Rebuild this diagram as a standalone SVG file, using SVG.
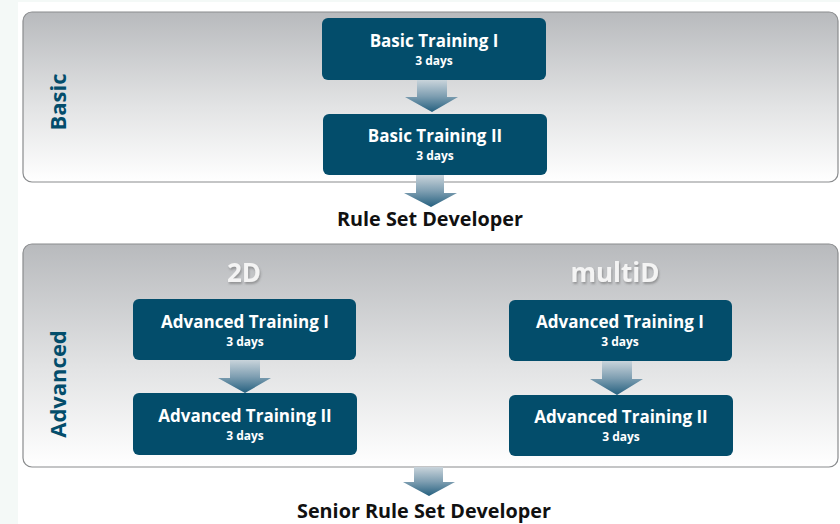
<svg xmlns="http://www.w3.org/2000/svg" width="840" height="524" viewBox="0 0 840 524">
<defs>
<linearGradient id="panel" x1="0" y1="0" x2="0" y2="1">
<stop offset="0" stop-color="#b8babd"/>
<stop offset="0.55" stop-color="#e2e3e4"/>
<stop offset="1" stop-color="#ffffff"/>
</linearGradient>
<linearGradient id="arr" x1="0" y1="0" x2="0" y2="1">
<stop offset="0" stop-color="#c9d4db"/>
<stop offset="0.5" stop-color="#7f9fb2"/>
<stop offset="1" stop-color="#25607f"/>
</linearGradient>
<filter id="sh" x="-20%" y="-20%" width="140%" height="160%">
<feDropShadow dx="1" dy="2" stdDeviation="1" flood-color="#555" flood-opacity="0.45"/>
</filter>
</defs>
<style>
.panel{fill:url(#panel);stroke:#8a8c8e;stroke-width:1.2}
.node{fill:#034d6b}
.t{font-family:"Open Sans","DejaVu Sans",sans-serif;font-weight:bold;fill:#fff;text-anchor:middle}
.title{font-size:17px}
.sub{font-size:12px}
.side{font-family:"Open Sans","DejaVu Sans",sans-serif;font-weight:bold;font-size:22px;fill:#034d6b;text-anchor:middle}
.out{font-family:"Open Sans","DejaVu Sans",sans-serif;font-weight:bold;font-size:19.8px;fill:#111;text-anchor:middle}
.hd{font-family:"Open Sans","DejaVu Sans",sans-serif;font-weight:bold;font-size:26px;fill:#f4f4f4;text-anchor:middle;filter:url(#sh)}
.arrow{fill:url(#arr)}
</style>
<rect x="0" y="0" width="840" height="524" fill="#ffffff"/>
<rect x="0" y="0" width="18" height="524" fill="#f4f9f7"/>
<rect x="0" y="0" width="840" height="2" fill="#f4f9f7"/>

<g id="panel-basic">
<rect class="panel" x="23" y="12" width="815" height="170" rx="9"/>
<text class="side" transform="translate(66,102) rotate(-90)">Basic</text>
</g>
<g id="panel-advanced">
<rect class="panel" x="23" y="244" width="815" height="223" rx="9"/>
<text class="side" transform="translate(66,384) rotate(-90)">Advanced</text>
<text class="hd" x="244" y="282">2D</text>
<text class="hd" x="615" y="282">multiD</text>
</g>

<g id="connectors">
<path class="arrow" d="M417,80 H447 V97 H458 L432,112 L405,97 H417 Z"/>
<path class="arrow" d="M416,175 H444 V193 H457 L431,207 L404,193 H416 Z"/>
<path class="arrow" d="M230,360 H260 V378 H271 L245,393 L218,378 H230 Z"/>
<path class="arrow" d="M602,361 H632 V379 H643 L617,395 L590,379 H602 Z"/>
<path class="arrow" d="M414,467 H443 V482 H455 L429,496 L403,482 H414 Z"/>
</g>

<g id="basic-1">
<rect class="node" x="322" y="18" width="224" height="62" rx="6"/>
<text class="t title" x="434" y="47">Basic Training I</text>
<text class="t sub" x="434" y="65">3 days</text>
</g>
<g id="basic-2">
<rect class="node" x="323" y="114" width="224" height="61" rx="6"/>
<text class="t title" x="435" y="142">Basic Training II</text>
<text class="t sub" x="435" y="160">3 days</text>
</g>
<g id="rule-set-developer">
<text class="out" x="430" y="226">Rule Set Developer</text>
</g>
<g id="adv2d-1">
<rect class="node" x="133" y="299" width="223" height="61" rx="6"/>
<text class="t title" x="245" y="328">Advanced Training I</text>
<text class="t sub" x="245" y="346">3 days</text>
</g>
<g id="adv2d-2">
<rect class="node" x="133" y="393" width="224" height="62" rx="6"/>
<text class="t title" x="245" y="422">Advanced Training II</text>
<text class="t sub" x="245" y="440">3 days</text>
</g>
<g id="advmd-1">
<rect class="node" x="509" y="300" width="223" height="61" rx="6"/>
<text class="t title" x="620" y="328">Advanced Training I</text>
<text class="t sub" x="620" y="346">3 days</text>
</g>
<g id="advmd-2">
<rect class="node" x="509" y="395" width="224" height="61" rx="6"/>
<text class="t title" x="621" y="423">Advanced Training II</text>
<text class="t sub" x="621" y="441">3 days</text>
</g>
<g id="senior-rule-set-developer">
<text class="out" x="424" y="518">Senior Rule Set Developer</text>
</g>
</svg>
